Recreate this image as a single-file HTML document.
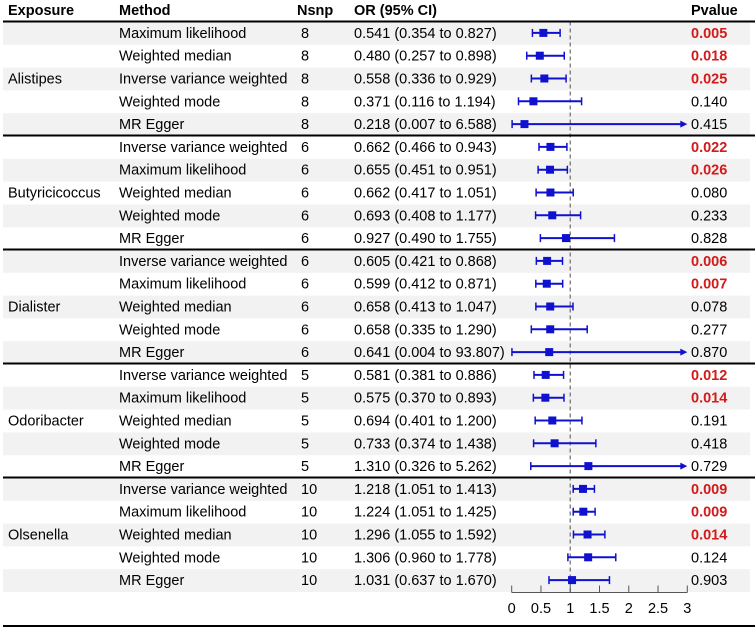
<!DOCTYPE html>
<html><head><meta charset="utf-8"><style>
html,body{margin:0;padding:0;background:#fff;}
svg{display:block;font-family:"Liberation Sans",Arial,sans-serif;}
</style></head><body>
<svg id="chart" width="755" height="629" viewBox="0 0 755 629" xmlns="http://www.w3.org/2000/svg"></svg>
<script>
const exposures = ["Alistipes","Butyricicoccus","Dialister","Odoribacter","Olsenella"];
const methods = [
["Maximum likelihood","Weighted median","Inverse variance weighted","Weighted mode","MR Egger"],
["Inverse variance weighted","Maximum likelihood","Weighted median","Weighted mode","MR Egger"],
["Inverse variance weighted","Maximum likelihood","Weighted median","Weighted mode","MR Egger"],
["Inverse variance weighted","Maximum likelihood","Weighted median","Weighted mode","MR Egger"],
["Inverse variance weighted","Maximum likelihood","Weighted median","Weighted mode","MR Egger"]];
const nsnp = [8,6,6,5,10];
const orVals = [0.541,0.480,0.558,0.371,0.218, 0.662,0.655,0.662,0.693,0.927, 0.605,0.599,0.658,0.658,0.641, 0.581,0.575,0.694,0.733,1.310, 1.218,1.224,1.296,1.306,1.031];
const lowVals = [0.354,0.257,0.336,0.116,0.007, 0.466,0.451,0.417,0.408,0.490, 0.421,0.412,0.413,0.335,0.004, 0.381,0.370,0.401,0.374,0.326, 1.051,1.051,1.055,0.960,0.637];
const highVals = [0.827,0.898,0.929,1.194,6.588, 0.943,0.951,1.051,1.177,1.755, 0.868,0.871,1.047,1.290,93.807, 0.886,0.893,1.200,1.438,5.262, 1.413,1.425,1.592,1.778,1.670];
const pVals = ["0.005","0.018","0.025","0.140","0.415","0.022","0.026","0.080","0.233","0.828","0.006","0.007","0.078","0.277","0.870","0.012","0.014","0.191","0.418","0.729","0.009","0.009","0.014","0.124","0.903"];
const xTicks = [0,0.5,1,1.5,2,2.5,3];
const xTickLabels = ["0","0.5","1","1.5","2","2.5","3"];

const svg = document.getElementById('chart');
const NS = 'http://www.w3.org/2000/svg';
const X0 = 511.7, X3 = 687.3, XMIN = 0, XMAX = 3;
const xScale = v => X0 + (v - XMIN) / (XMAX - XMIN) * (X3 - X0);
const TOP = 21.5, RH = 22.8;
const rowY = i => TOP + i * RH;
function mk(tag, attrs, parent){ const e=document.createElementNS(NS,tag); for(const k in attrs) e.setAttribute(k,attrs[k]); (parent||svg).appendChild(e); return e; }
function txt(s,x,y,opts){ const t=mk('text',Object.assign({x:x,y:y,'font-size':14.5,fill:'#000'},opts||{})); t.textContent=s; return t; }

const nRows = orVals.length;
for(let i=0;i<nRows;i++){
  if(i%2===0){
    const r = mk('rect',{x:3,y:rowY(i)+0.5,width:747,height:RH,fill:'#f2f2f2'});
    
    
  }
}
const hdr = [["Exposure",8],["Method",119],["Nsnp",297],["OR (95% CI)",354],["Pvalue",691]];
hdr.forEach(h=>{ const t=txt(h[0],h[1],15,{'font-weight':'bold'});
  
   });
let idx=0;
exposures.forEach((ex,g)=>{
  const t=txt(ex,8,rowY(g*5+2)+RH/2+5);
  
  
  for(let m=0;m<5;m++,idx++){
    const cy = rowY(idx)+RH/2;
    const ml = txt(methods[g][m],119,cy+5);
    
    
    const nl = txt(String(nsnp[g]),301,cy+5);
    
    
    const ol = txt(orVals[idx].toFixed(3)+' ('+lowVals[idx].toFixed(3)+' to '+highVals[idx].toFixed(3)+')',354,cy+5);
    
    
    const sig = parseFloat(pVals[idx])<0.05;
    const pl = txt(pVals[idx],691,cy+5,sig?{'font-weight':'bold',fill:'#d41a1a'}:{});
    
    
  }
});
const ref = mk('line',{x1:xScale(1),x2:xScale(1),y1:TOP,y2:592,stroke:'#777','stroke-width':1.3,'stroke-dasharray':'4,3'});


const BLUE='#1010d0';
for(let i=0;i<nRows;i++){
  const cy = rowY(i)+RH/2;
  const lo = Math.max(lowVals[i],XMIN), hi = Math.min(highVals[i],XMAX);
  const x1 = xScale(lo), x2 = xScale(hi);
  const g = mk('g',{});
  
  
  mk('line',{x1:x1,x2:highVals[i]>XMAX?x2-5:x2,y1:cy,y2:cy,stroke:BLUE,'stroke-width':2},g);
  mk('line',{x1:x1,x2:x1,y1:cy-4,y2:cy+4,stroke:BLUE,'stroke-width':1.5},g);
  if(highVals[i]>XMAX){
    mk('polygon',{points:(x2)+','+cy+' '+(x2-7)+','+(cy-3.5)+' '+(x2-7)+','+(cy+3.5),fill:BLUE},g);
  } else {
    mk('line',{x1:x2,x2:x2,y1:cy-4,y2:cy+4,stroke:BLUE,'stroke-width':1.5},g);
  }
  const bx = xScale(orVals[i]);
  mk('rect',{x:bx-4,y:cy-4,width:8,height:8,fill:BLUE},g);
}
for(let g=0;g<=exposures.length;g++){
  const y = g===exposures.length ? 626 : rowY(g*5);
  const s=mk('line',{x1:3,x2:755,y1:y,y2:y,stroke:'#000','stroke-width':2});
  if(g===exposures.length){
    
    
  } else {
    
    
  }
}
const AY=592.5;
const ax=mk('line',{x1:xScale(XMIN),x2:xScale(XMAX),y1:AY,y2:AY,stroke:'#555','stroke-width':1});


xTicks.forEach((v,k)=>{
  const tk=mk('line',{x1:xScale(v),x2:xScale(v),y1:AY,y2:AY-7,stroke:'#555','stroke-width':1});
  
  
  const tl=txt(xTickLabels[k],xScale(v),613,{'text-anchor':'middle'});
  
  
});
</script>
</body></html>
